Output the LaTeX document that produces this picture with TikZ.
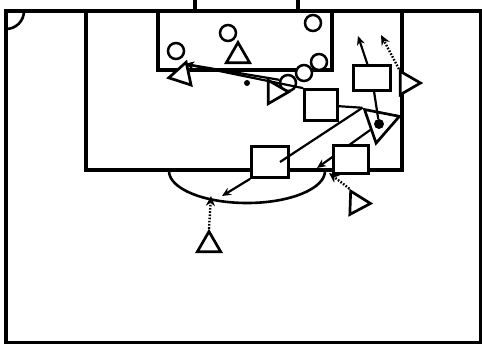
\documentclass[tikz,border=0pt]{standalone}
\usepackage{tikz}
\usetikzlibrary{shapes.geometric, arrows.meta, calc}

\begin{document}
\begin{tikzpicture}[
		x=1pt, y=-1pt,
		pitchline/.style={line width=3.4pt},
		opp/.style={circle, draw, fill=white, line width=2.5pt, minimum size=16pt, inner sep=0},
		mate/.style={regular polygon, regular polygon sides=3, draw, fill=white, line width=2.7pt, minimum size=27pt, inner sep=0},
		zone/.style={rectangle, draw, fill=white, line width=2.7pt, inner sep=0},
		passline/.style={-{Stealth[length=9pt, width=8pt]}, line width=2.2pt},
		runline/.style={-{Stealth[length=10pt, width=9pt]}, line width=2.4pt, dash pattern=on 1.6pt off 1.6pt},
		plainline/.style={line width=2.2pt}
		]
		\useasboundingbox (0,0) rectangle (482,345);
		
		% Pitch lines
		\draw[pitchline] (6,11) rectangle (480.5,342.5);
		\draw[pitchline] (86,11) rectangle (402,170);
		\draw[pitchline] (158,11) rectangle (332,70);
		\draw[pitchline] (195,-4) rectangle (298,11);
		\draw[line width=2.6pt] (24,11) arc[start angle=0, end angle=90, radius=18];
		\draw[line width=2.6pt] (169,171) arc[start angle=180, end angle=0, x radius=78, y radius=32];
		
		% Opponents
		\node[opp] (o1) at (176,51) {};
		\node[opp] (o2) at (228,33) {};
		\node[opp] (o3) at (313,23) {};
		\node[opp] (o4) at (319,62) {};
		\node[opp] (o5) at (304,73) {};
		\node[opp] (o6) at (288,83) {};
		
		% Team mates
		\node[mate] (m1) at (238,56) {};
		\node[mate, rotate=-18] (m2) at (182,75) {};
		\node[mate, rotate=-90] (m3) at (275,92) {};
		\node[mate, rotate=-90] (m4) at (407,83) {};
		\node[mate, rotate=-71, minimum size=41pt] (m5) at (380,123) {};
		\node[mate, rotate=-92] (m6) at (357,203) {};
		\node[mate] (m7) at (209,245) {};
		
		% Ball and spot
		\node[circle, fill, inner sep=0, minimum size=10pt] (ball) at (379,124) {};
		\node[circle, fill, inner sep=0, minimum size=6pt] (spot) at (247,83) {};
		
		% Zones
		\node[zone, minimum width=37pt, minimum height=25pt] (zA) at (372,78) {};
		\node[zone, minimum width=33pt, minimum height=31pt] (zB) at (321,105) {};
		\node[zone, minimum width=37pt, minimum height=31pt] (zC) at (270,162) {};
		
		% Pass behind the last zone
		\coordinate (tipD) at (317,168);
		\draw[passline] (m5) -- (tipD);
		\node[zone, minimum width=35pt, minimum height=28pt] (zD) at (351,159.5) {};
		
		% Passes and runs
		\coordinate (tipG) at (185,64);
		\draw[passline] (zB.north west) -- (tipG);
		\draw[passline] (o6.160) -- (tipG);
		\coordinate (tipA) at (358,36);
		\draw[passline] (zA) -- (tipA);
		\coordinate (tipB) at (381,35);
		\draw[runline] (m4.corner 2) -- (tipB);
		\draw[plainline] (zA) -- (ball);
		\draw[plainline] (zB) -- (m5.corner 2);
		\coordinate (inC) at (280,162);
		\draw[plainline] (m5.corner 2) -- (inC);
		\coordinate (tipC) at (222,196);
		\draw[passline] (zC.south west) -- (tipC);
		\coordinate (tipE) at (211,196);
		\draw[runline] (m7.corner 1) -- (tipE);
		\coordinate (tipF) at (329,173);
		\draw[runline] (m6.corner 2) -- (tipF);
		
	\end{tikzpicture}
\end{document}
